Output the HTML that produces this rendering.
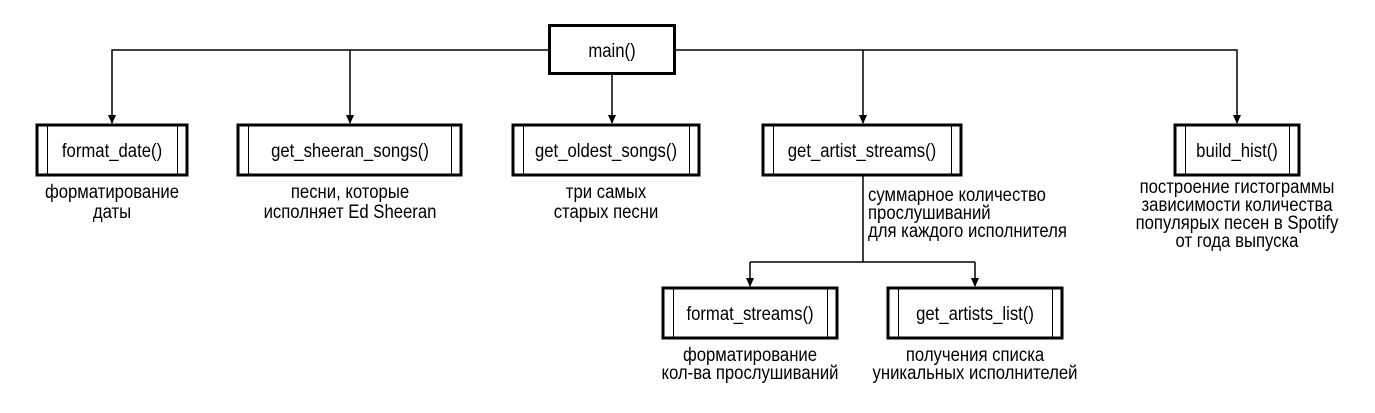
<!DOCTYPE html>
<html><head><meta charset="utf-8"><style>
html,body{margin:0;padding:0;background:#fff;}
svg{display:block;}
text{font-family:"Liberation Sans",sans-serif;font-size:19px;fill:#000;}
</style></head><body>
<svg width="1375" height="413" viewBox="0 0 1375 413" xmlns="http://www.w3.org/2000/svg">
<g stroke="#000" stroke-width="1.5" fill="none">
<path d="M549,50 H112 V123"/>
<path d="M350,50 V123"/>
<path d="M612,74 V123"/>
<path d="M675,50 H1237 V123"/>
<path d="M863,50 V123"/>
<path d="M863,176 V262 M750,262 H975 M750,262 V286 M975,262 V286"/>
</g>
<g fill="#000">
<path d="M108,115 L116,115 L112,124 Z"/>
<path d="M346,115 L354,115 L350,124 Z"/>
<path d="M608,115 L616,115 L612,124 Z"/>
<path d="M859,115 L867,115 L863,124 Z"/>
<path d="M1233,115 L1241,115 L1237,124 Z"/>
<path d="M746,278 L754,278 L750,287 Z"/>
<path d="M971,278 L979,278 L975,287 Z"/>
</g>
<g stroke="#000" fill="#fff">
<rect x="549.5" y="25.5" width="125" height="48" stroke-width="3"/>
<rect x="37" y="125" width="150" height="50" stroke-width="3"/>
<rect x="238" y="125" width="223" height="50" stroke-width="3"/>
<rect x="513" y="125" width="186" height="50" stroke-width="3"/>
<rect x="763" y="125" width="198" height="50" stroke-width="3"/>
<rect x="1175" y="125" width="124" height="50" stroke-width="3"/>
<rect x="663" y="288" width="174" height="50" stroke-width="3"/>
<rect x="888" y="288" width="174" height="50" stroke-width="3"/>
</g>
<g stroke="#000" stroke-width="1">
<path d="M47.5,125V175 M177.5,125V175"/>
<path d="M248.5,125V175 M451.5,125V175"/>
<path d="M523.5,125V175 M689.5,125V175"/>
<path d="M773.5,125V175 M951.5,125V175"/>
<path d="M1185.5,125V175 M1289.5,125V175"/>
<path d="M673.5,288V338 M827.5,288V338"/>
<path d="M898.5,288V338 M1052.5,288V338"/>
</g>
<g text-anchor="middle">
<text transform="translate(612,57) scale(0.88,1)">main()</text>
<text transform="translate(112,157) scale(0.88,1)">format_date()</text>
<text transform="translate(350,157) scale(0.88,1)">get_sheeran_songs()</text>
<text transform="translate(606,157) scale(0.88,1)">get_oldest_songs()</text>
<text transform="translate(862,157) scale(0.88,1)">get_artist_streams()</text>
<text transform="translate(1237,157) scale(0.88,1)">build_hist()</text>
<text transform="translate(750,320) scale(0.88,1)">format_streams()</text>
<text transform="translate(975,320) scale(0.88,1)">get_artists_list()</text>
<text transform="translate(112,198) scale(0.88,1)">форматирование</text>
<text transform="translate(112,218) scale(0.88,1)">даты</text>
<text transform="translate(350,198) scale(0.88,1)">песни, которые</text>
<text transform="translate(350,218) scale(0.88,1)">исполняет Ed Sheeran</text>
<text transform="translate(606,198) scale(0.88,1)">три самых</text>
<text transform="translate(606,218) scale(0.88,1)">старых песни</text>
<text transform="translate(1237,193) scale(0.88,1)">построение гистограммы</text>
<text transform="translate(1237,211) scale(0.88,1)">зависимости количества</text>
<text transform="translate(1237,229) scale(0.88,1)">популярых песен в Spotify</text>
<text transform="translate(1237,247) scale(0.88,1)">от года выпуска</text>
<text transform="translate(750,361) scale(0.88,1)">форматирование</text>
<text transform="translate(750,379) scale(0.88,1)">кол-ва прослушиваний</text>
<text transform="translate(975,361) scale(0.88,1)">получения списка</text>
<text transform="translate(975,379) scale(0.88,1)">уникальных исполнителей</text>
</g>
<text transform="translate(868,201) scale(0.88,1)">суммарное количество</text>
<text transform="translate(868,219) scale(0.88,1)">прослушиваний</text>
<text transform="translate(868,237) scale(0.88,1)">для каждого исполнителя</text>
</svg>
</body></html>
